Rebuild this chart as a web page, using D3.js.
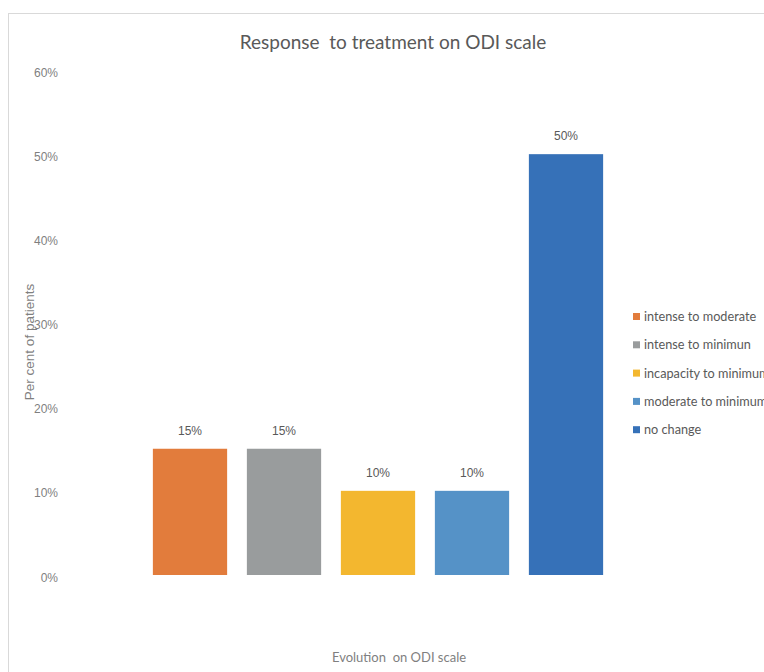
<!DOCTYPE html>
<html>
<head>
<meta charset="utf-8">
<script src="https://cdn.jsdelivr.net/npm/d3@7"></script>
<style>
  body { margin: 0; background: #fff; }
  svg { display: block; }
  text { white-space: pre; }
</style>
</head>
<body>
<svg id="chart" width="764" height="672"></svg>
<script>
  // chart data
  var categories = ['intense to moderate', 'intense to minimun', 'incapacity to minimum',
                    'moderate to minimum', 'no change'];
  var values = [15, 15, 10, 10, 50];
  var colors = ['#e27c3c', '#999c9d', '#f3b72f', '#5592c7', '#3671b8'];
  var yTicks = [0, 10, 20, 30, 40, 50, 60];

  var svg = d3.select('#chart');

  // outer frame (only top & left edges visible)
  svg.append('rect')
    .attr('x', 8.5).attr('y', 13.5)
    .attr('width', 800).attr('height', 700)
    .attr('fill', 'none')
    .attr('stroke', '#d9d9d9');

  var x = d3.scaleBand()
    .domain(categories)
    .range([143, 613])
    .paddingInner(0.21)
    .paddingOuter(0.105);

  var y = d3.scaleLinear()
    .domain([0, 60])
    .range([575, 70]);

  // y axis labels, no line and no ticks
  var yAxis = d3.axisLeft(y)
    .tickValues(yTicks)
    .tickSize(0)
    .tickPadding(0)
    .tickFormat(function (d) { return d + '%'; });

  var gy = svg.append('g')
    .attr('transform', 'translate(58,0)')
    .call(yAxis);
  gy.select('.domain').remove();
  gy.selectAll('text')
    .attr('font-family', '"Liberation Sans", Arial, sans-serif')
    .attr('font-size', 12)
    .attr('fill', '#7f7f7f')
    .attr('dy', '0.5em');

  // bars
  svg.append('g')
    .selectAll('rect')
    .data(values)
    .join('rect')
      .attr('x', function (d, i) { return x(categories[i]); })
      .attr('y', function (d) { return y(d); })
      .attr('width', x.bandwidth())
      .attr('height', function (d) { return y(0) - y(d); })
      .attr('fill', function (d, i) { return colors[i]; });

  // value labels
  svg.append('g')
    .selectAll('text')
    .data(values)
    .join('text')
      .attr('x', function (d, i) { return x(categories[i]) + x.bandwidth() / 2; })
      .attr('y', function (d) { return y(d) - 14; })
      .attr('text-anchor', 'middle')
      .attr('font-family', '"Liberation Sans", Arial, sans-serif')
      .attr('font-size', 12)
      .attr('fill', '#595959')
      .text(function (d) { return d + '%'; });

  // title
  svg.append('text')
    .attr('x', 393).attr('y', 49)
    .attr('text-anchor', 'middle')
    .attr('font-family', 'Lato, sans-serif')
    .attr('font-size', 19)
    .attr('fill', '#595959')
    .text('Response  to treatment on ODI scale');

  // axis titles
  svg.append('text')
    .attr('transform', 'translate(34,342) rotate(-90)')
    .attr('text-anchor', 'middle')
    .attr('font-family', '"Liberation Sans", Arial, sans-serif')
    .attr('font-size', 13.5)
    .attr('fill', '#7f7f7f')
    .text('Per cent of patients');

  svg.append('text')
    .attr('x', 399).attr('y', 662)
    .attr('text-anchor', 'middle')
    .attr('font-family', 'Lato, sans-serif')
    .attr('font-size', 13)
    .attr('fill', '#7f7f7f')
    .text('Evolution  on ODI scale');

  // legend
  var legend = svg.append('g')
    .selectAll('g')
    .data(categories)
    .join('g')
      .attr('transform', function (d, i) { return 'translate(633,' + (313 + i * 28.3) + ')'; });

  legend.append('rect')
    .attr('width', 7).attr('height', 7)
    .attr('fill', function (d, i) { return colors[i]; });

  legend.append('text')
    .attr('x', 11).attr('y', 8)
    .attr('font-family', 'Lato, sans-serif')
    .attr('font-size', 12.7)
    .attr('fill', '#595959')
    .text(function (d) { return d; });
</script>
</body>
</html>
